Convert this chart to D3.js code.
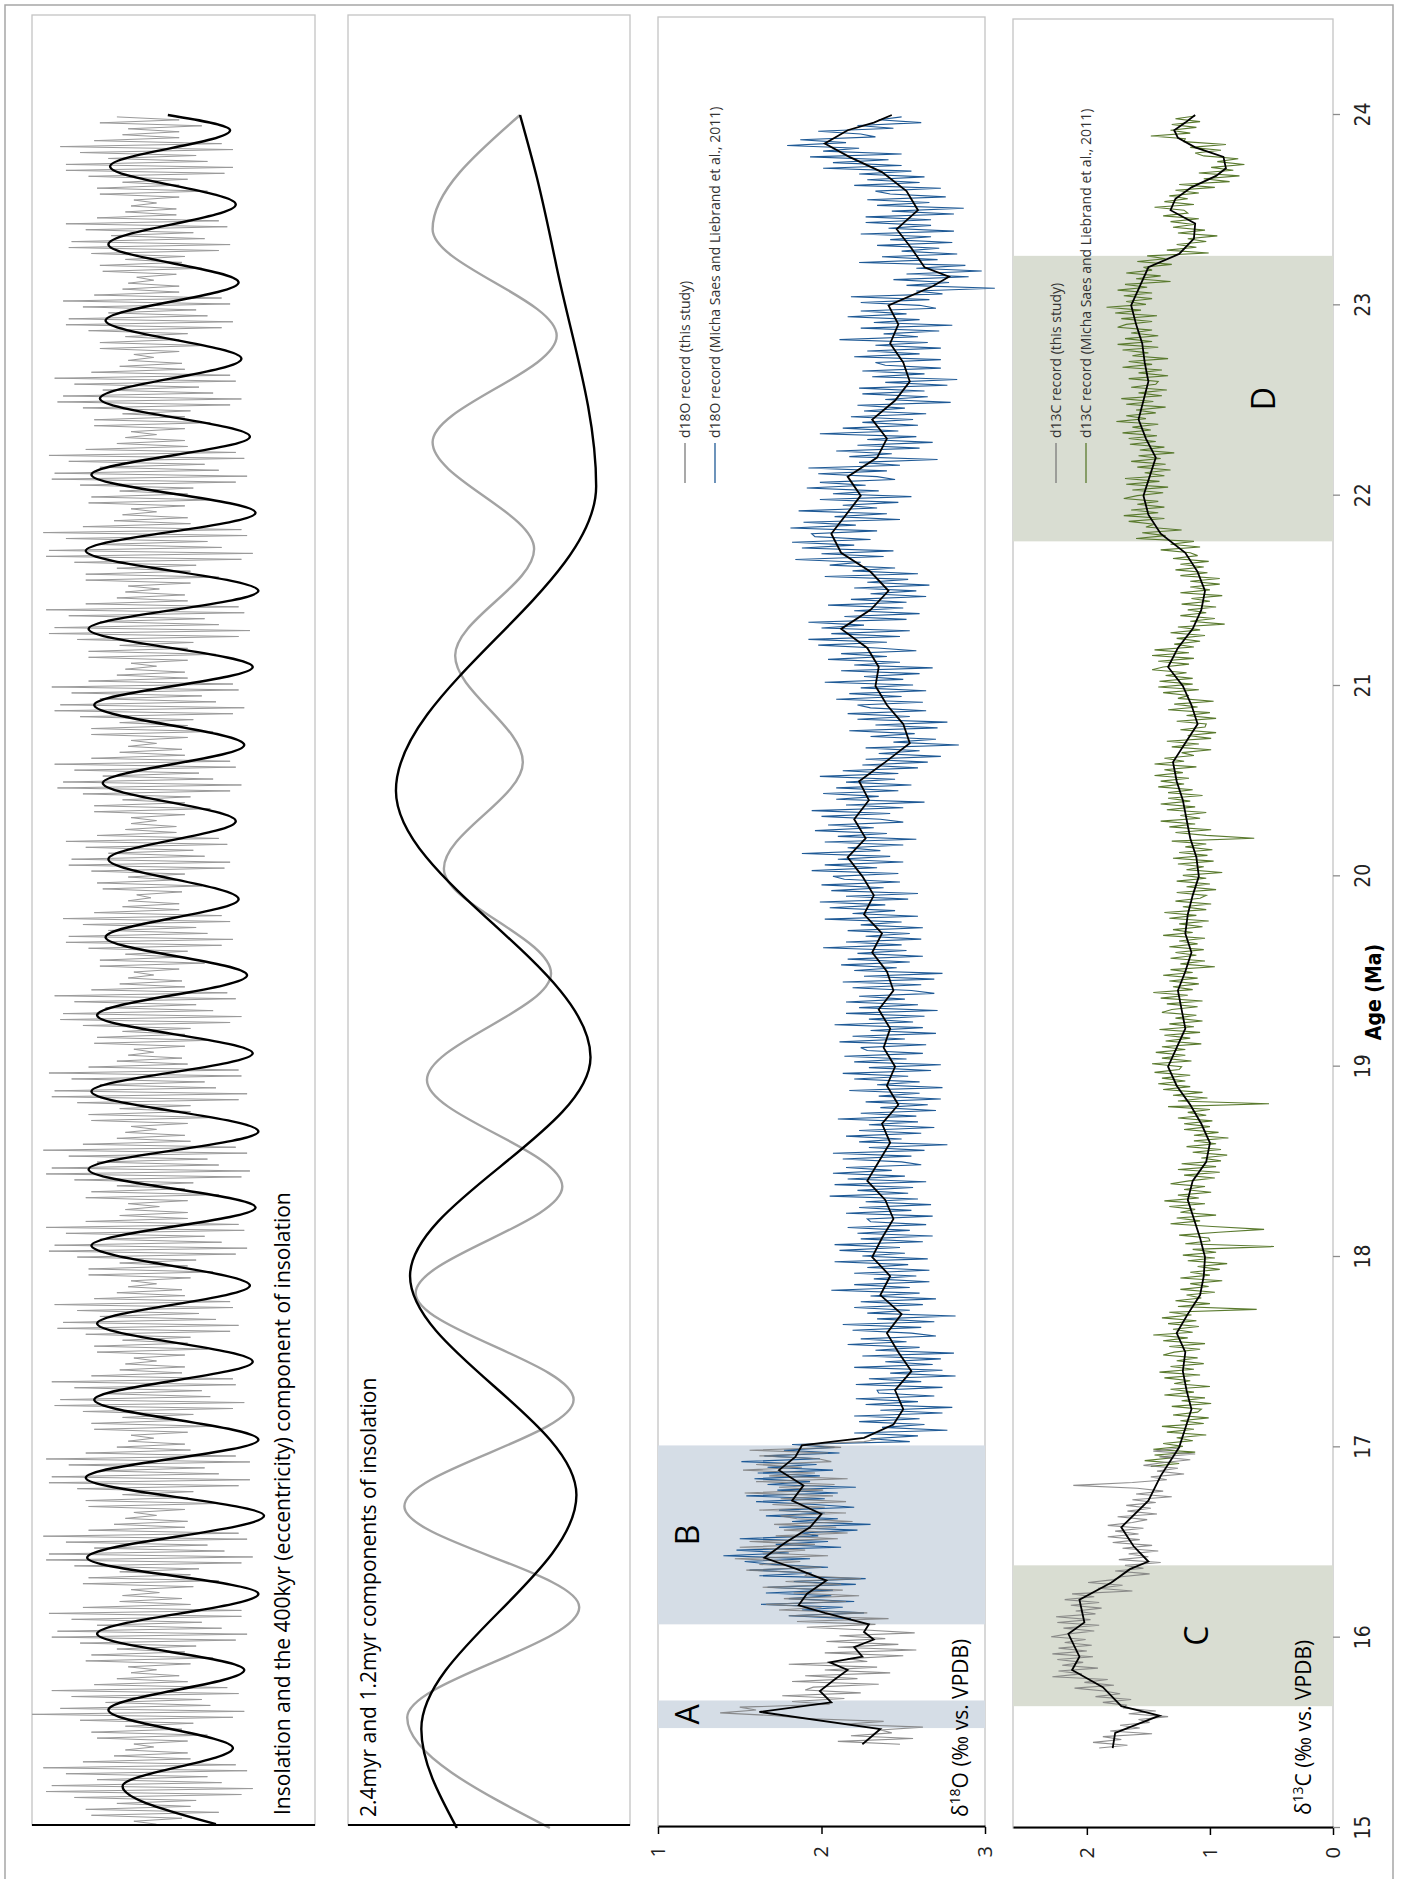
<!DOCTYPE html>
<html>
<head>
<meta charset="utf-8">
<script src="https://cdn.jsdelivr.net/npm/d3@7"></script>
<style>
  body { margin: 0; background: #fff; }
</style>
</head>
<body>
<svg id="chart"></svg>
<script>
const W = 1402, H = 1879;

// Tick values
const ageTicks = [15, 16, 17, 18, 19, 20, 21, 22, 23, 24];
const d18Ticks = [1, 2, 3];
const d13Ticks = [0, 1, 2];

// 400 kyr component, extremes [age Ma, relative 0-100]
const ecc400 = [[15.02,65],[15.22,32],[15.42,71],[15.62,27],[15.83,75],[16.02,23],[16.23,80],[16.42,19.5],[16.64,82],[16.84,19],[17.04,80],[17.25,22],[17.45,78],[17.65,23],[17.85,77],[18.06,21],[18.26,79],[18.46,20],[18.66,80],[18.87,21],[19.07,78],[19.27,23],[19.48,76],[19.68,26],[19.88,73],[20.09,27],[20.29,72],[20.49,25],[20.69,75],[20.90,22],[21.10,78],[21.30,20],[21.50,80],[21.71,19],[21.91,79],[22.11,21],[22.31,77],[22.51,24],[22.72,74],[22.92,26],[23.12,73],[23.32,27],[23.53,72],[23.73,27.6],[23.92,70],[24.0,48]];

// Insolation, successive maxima/minima (relative 0-100)
const insolStart = 15.02, insolStep = 0.0156;
const insolVals = [
44,36,53,21,66,19,56,30,58,15,74,5,78,7,67,23,62,12,76,4,72,18,56,29,55,33,
43,36,55,23,62,21,53,33,57,17,71,0,75,10,63,26,60,14,73,7,69,22,55,30,52,35,
44,34,56,19,64,21,54,30,58,17,72,7,76,9,67,23,60,14,74,6,74,18,56,31,53,32,
45,35,57,18,66,20,56,31,59,15,74,5,78,6,68,22,62,12,76,4,73,20,54,29,55,33,
44,36,54,20,65,19,55,32,57,16,73,6,77,7,66,24,61,13,77,5,72,19,56,30,54,34,
43,35,55,22,64,21,53,32,57,18,71,8,75,10,63,25,60,15,72,7,71,21,53,31,54,33,
44,36,54,23,62,22,55,32,56,19,70,9,73,11,65,24,59,16,71,8,70,22,54,30,53,34,
44,35,56,20,64,20,55,31,58,16,72,6,76,8,67,24,61,12,75,5,73,19,55,31,55,33,
45,34,55,19,66,21,54,30,57,15,74,5,77,7,66,23,62,13,76,4,72,18,56,30,54,33,
44,35,55,21,65,20,56,31,56,16,73,7,76,8,65,24,61,14,74,6,73,20,55,30,53,34,
43,36,54,22,63,23,54,32,56,18,70,10,74,11,64,26,58,15,72,8,69,21,54,31,53,34,
43,36,52,24,61,24,52,33,55,20,67,12,71,13,62,27,58,18,70,11,67,22,52,32,52,34,
42,37,53,25,60,23,51,34,54,21,68,13,70,14,61,27,57,19,69,12,66,23,51,33,51,35,
44,35,54,22,63,22,54,32,56,18,70,9,74,11,64,25,59,15,72,8,70,21,54,31,53,34,
44,35,55,21,64,21,55,31,57,17,71,8,75,10,65,24,60,14,73,7,71,20,55,30,54,33,
44,35,55,20,65,20,55,31,57,16,73,6,77,8,66,24,61,13,75,5,73,19,55,30,54,33,
45,34,56,19,66,19,56,30,58,15,74,5,78,6,67,23,62,12,76,4,74,18,56,29,55,32,
44,35,54,20,64,21,55,31,57,17,72,7,76,8,66,24,61,13,75,6,72,19,55,30,54,33,
44,35,54,22,63,22,54,32,56,18,70,9,74,11,64,25,59,15,72,8,70,21,54,31,53,34,
43,36,52,24,61,24,52,33,55,20,67,12,71,13,62,27,58,18,70,11,67,22,52,32,52,34,
43,37,51,25,60,24,53,33,54,21,66,13,70,14,61,28,57,19,69,12,66,23,51,33,51,35,
44,36,52,24,62,23,52,32,55,20,68,12,71,12,62,27,58,17,71,10,67,22,52,32,52,34,
60,24,52,30];

// 2.4 myr (black) and 1.2 myr (grey) components [age, relative 0-100]
const comp24 = [[15.0,38.6],[15.52,26],[16.75,81],[17.9,22],[19.05,86],[20.45,17],[22.05,88],[23.2,74],[23.67,67],[24.0,61]];
const comp12 = [[15.0,71.6],[15.58,21],[16.16,82],[16.69,20],[17.25,80],[17.81,24],[18.37,76],[18.93,28],[19.49,72],[20.04,34],[20.6,62],[21.16,38],[21.72,66],[22.28,30],[22.84,74],[23.4,30],[24.0,61]];

// d18O smoothed record [age, permil]
const d18Smooth = [[15.44,2.25],[15.52,2.36],[15.61,1.62],[15.66,2.06],[15.72,1.99],[15.78,2.08],[15.83,2.16],[15.87,2.05],[15.90,2.25],[15.95,2.2],[15.99,2.32],[16.03,2.26],[16.07,2.29],[16.13,2.02],[16.17,1.86],[16.23,1.91],[16.30,2.03],[16.36,1.85],[16.42,1.65],[16.50,1.78],[16.58,1.93],[16.65,2.0],[16.72,1.82],[16.80,1.89],[16.88,1.74],[16.95,1.84],[17.01,1.88],[17.05,2.26],[17.12,2.44],[17.2,2.5],[17.3,2.45],[17.4,2.55],[17.5,2.47],[17.6,2.4],[17.7,2.49],[17.8,2.36],[17.9,2.42],[18.0,2.31],[18.1,2.37],[18.2,2.44],[18.3,2.39],[18.4,2.28],[18.5,2.35],[18.6,2.42],[18.7,2.37],[18.8,2.47],[18.9,2.4],[19.0,2.45],[19.1,2.38],[19.2,2.42],[19.3,2.35],[19.4,2.44],[19.5,2.4],[19.6,2.31],[19.7,2.37],[19.8,2.26],[19.9,2.32],[20.0,2.25],[20.1,2.16],[20.2,2.27],[20.3,2.2],[20.4,2.29],[20.5,2.23],[20.6,2.39],[20.7,2.54],[20.8,2.5],[20.9,2.4],[21.0,2.33],[21.1,2.35],[21.2,2.28],[21.3,2.12],[21.4,2.3],[21.5,2.41],[21.6,2.3],[21.7,2.12],[21.8,2.06],[21.9,2.15],[22.0,2.24],[22.1,2.16],[22.2,2.34],[22.3,2.4],[22.4,2.31],[22.5,2.45],[22.6,2.54],[22.7,2.5],[22.8,2.42],[22.9,2.47],[23.0,2.41],[23.1,2.68],[23.15,2.78],[23.2,2.63],[23.3,2.55],[23.4,2.46],[23.5,2.59],[23.6,2.52],[23.7,2.37],[23.78,2.17],[23.85,2.02],[23.92,2.16],[23.96,2.32],[24.0,2.43]];

// d18O raw records, permil x100 at regular age steps
const d18ThisStart = 15.44, d18LiebStart = 16.10, rawStep = 0.015;
const d18This = [
248,210,256,218,243,236,262,214,238,190,172,138,160,150,205,182,214,176,224,190,
195,235,182,222,190,242,202,234,180,228,216,250,202,258,210,247,203,239,211,257,
227,191,233,185,241,180,228,174,200,166,215,177,223,183,213,164,212,178,224,190,
192,154,200,162,187,147,204,164,190,150,196,156,210,172,216,177,209,171,219,185,
175,215,162,202,170,215,175,207,153,201,174,208,160,216,168,196,152,188,160,206,
198,162,204,156,212,188,226,236];
const d18Lieb = [
218,180,226,188,213,163,220,180,206,166,207,167,221,183,227,162,194,156,204,170,
153,193,140,180,148,212,172,204,150,198,188,222,174,230,182,210,166,202,174,220,
196,160,202,154,210,173,221,167,193,159,199,161,207,167,197,151,199,165,211,177,
208,182,254,230,259,220,277,237,263,223,260,220,274,236,280,227,259,221,269,235,
234,274,221,261,229,282,242,274,220,268,239,273,225,281,233,260,216,252,224,270,
255,219,261,213,269,234,282,228,254,220,262,224,270,230,260,206,254,220,266,232,
258,220,266,228,253,208,265,225,251,211,248,208,262,224,268,222,254,216,264,230,
228,268,215,255,223,267,227,259,205,253,222,256,208,264,216,251,207,243,215,261,
249,213,255,207,263,229,277,223,249,215,261,223,269,229,259,210,258,224,270,236,
265,227,273,235,260,217,274,234,260,220,253,213,267,229,273,220,252,214,262,228,
224,264,211,251,219,270,230,262,208,256,229,263,215,271,223,259,215,251,223,269,
255,219,261,213,269,226,274,220,246,212,254,216,262,222,252,201,249,215,261,227,
254,216,262,224,249,202,259,219,245,205,239,199,253,215,259,206,238,200,248,214,
207,247,194,234,202,250,210,242,188,236,216,250,202,258,210,240,196,232,204,250,
236,200,242,194,250,215,263,209,235,201,247,209,255,215,245,199,247,213,259,225,
265,227,273,235,260,227,284,244,270,230,257,217,271,233,277,222,254,216,264,230,
222,262,209,249,217,264,224,256,202,250,226,260,212,268,220,248,204,240,212,258,
234,198,240,192,248,206,254,200,226,192,252,214,260,220,250,204,252,218,264,230,
258,220,266,228,253,202,259,219,245,205,224,184,238,200,244,188,220,182,230,196,
194,234,181,221,189,248,208,240,186,234,213,247,199,255,207,235,191,227,199,245,
234,198,240,192,248,223,271,217,243,209,260,222,268,228,258,199,247,213,259,225,
256,218,264,226,251,222,279,239,265,225,263,223,277,239,283,231,263,225,273,239,
233,273,220,260,228,273,233,265,211,259,238,272,224,280,232,260,216,252,224,270,
260,224,266,218,274,258,306,252,278,244,290,252,298,258,288,223,271,237,283,249,
272,234,280,242,267,224,281,241,267,227,267,227,281,243,287,234,266,228,276,242,
233,273,220,260,228,263,223,255,201,249,207,241,193,249,201,223,179,215,187,233,
224,198,244,222,261,235,249];

// d13C smoothed record [age, permil]
const d13Smooth = [[15.42,1.79],[15.50,1.77],[15.59,1.41],[15.64,1.72],[15.74,1.87],[15.83,2.12],[15.90,2.06],[16.02,2.15],[16.08,2.02],[16.20,2.06],[16.29,1.80],[16.36,1.65],[16.40,1.50],[16.48,1.62],[16.58,1.72],[16.72,1.50],[16.85,1.40],[17.0,1.25],[17.1,1.2],[17.2,1.15],[17.3,1.19],[17.4,1.22],[17.5,1.2],[17.6,1.27],[17.7,1.18],[17.8,1.08],[17.9,1.05],[18.0,1.04],[18.1,1.08],[18.2,1.13],[18.3,1.18],[18.4,1.14],[18.5,1.03],[18.6,1.0],[18.7,1.07],[18.8,1.16],[18.9,1.27],[19.0,1.34],[19.1,1.27],[19.2,1.2],[19.3,1.23],[19.4,1.26],[19.5,1.2],[19.6,1.15],[19.7,1.2],[19.8,1.18],[19.9,1.14],[20.0,1.09],[20.1,1.11],[20.2,1.16],[20.3,1.19],[20.4,1.22],[20.5,1.27],[20.6,1.3],[20.7,1.2],[20.8,1.1],[20.9,1.15],[21.0,1.22],[21.1,1.34],[21.2,1.26],[21.3,1.14],[21.4,1.07],[21.5,1.04],[21.6,1.1],[21.7,1.2],[21.8,1.4],[21.9,1.5],[22.0,1.54],[22.1,1.49],[22.2,1.44],[22.3,1.52],[22.4,1.58],[22.5,1.54],[22.6,1.5],[22.7,1.53],[22.8,1.55],[22.9,1.6],[23.0,1.64],[23.1,1.57],[23.2,1.5],[23.27,1.25],[23.35,1.13],[23.43,1.12],[23.5,1.32],[23.56,1.28],[23.62,1.15],[23.68,0.95],[23.72,0.87],[23.78,0.89],[23.83,1.12],[23.88,1.26],[23.92,1.29],[23.96,1.2],[24.0,1.12]];

// d13C raw records, permil x100
const d13ThisStart = 15.42, d13LiebStart = 16.90;
const d13This = [
190,167,195,172,187,147,181,157,173,149,158,134,166,144,170,168,187,164,193,173,
186,210,178,202,183,228,204,223,191,220,203,224,195,228,200,223,196,218,201,229,
215,194,219,190,224,197,225,193,209,188,213,190,218,194,212,163,191,171,199,178,
172,149,177,154,169,140,174,150,166,142,171,147,179,157,183,158,177,154,183,163,
151,175,143,167,148,168,144,163,131,160,138,159,211,163,135,148,121,143,126,154,
137,116,141,112,146,126];
const d13Lieb = [
148,125,153,130,145,112,146,122,138,114,127,103,135,113,139,105,124,101,130,110,
107,131,99,123,104,137,113,132,100,129,116,137,108,141,113,132,105,127,110,138,
129,108,133,104,138,118,146,114,130,109,134,111,139,115,133,62,126,100,128,107,
119,96,124,101,116,90,124,100,116,92,110,86,118,96,122,95,114,48,120,100,
101,125,93,56,98,132,108,127,95,124,112,133,104,137,109,126,99,121,104,132,
117,96,121,92,126,95,123,91,107,86,114,91,119,95,113,85,113,93,121,100,
121,98,126,103,118,100,134,52,126,102,130,106,138,116,142,120,139,116,145,125,
123,147,115,139,120,144,120,139,107,136,116,137,108,141,113,133,106,128,111,139,
131,110,135,106,140,118,146,114,130,109,133,110,138,114,132,96,124,104,132,111,
128,105,133,110,125,104,138,114,130,106,125,101,133,111,137,103,122,99,128,108,
103,127,95,119,100,127,103,122,90,119,105,126,97,130,102,125,98,120,103,131,
64,103,128,99,133,112,140,108,124,103,135,112,140,116,134,106,134,114,142,121,
140,117,145,122,137,111,145,121,137,113,123,99,131,109,135,99,118,95,124,104,
103,127,95,119,100,134,110,129,97,126,117,138,109,142,114,141,114,136,119,147,
138,117,142,113,147,117,145,113,129,108,127,104,132,108,126,88,116,96,124,103,
118,95,123,100,115,90,124,100,116,92,116,92,124,102,128,105,124,101,130,110,
116,140,108,132,113,160,136,155,123,152,145,166,137,170,142,164,137,159,142,170,
159,138,163,134,168,141,169,137,153,132,159,136,164,140,158,129,157,137,165,144,
166,143,171,148,163,142,176,152,168,144,160,136,168,146,172,139,158,135,164,144,
142,166,134,158,139,171,147,166,134,163,150,171,142,175,147,169,142,164,147,175,
168,147,172,143,177,156,184,152,168,147,170,147,175,151,169,132,160,140,168,147,
154,131,159,136,151,101,135,111,127,103,118,94,126,104,130,113,132,109,138,118,
121,145,113,137,118,133,109,128,96,125,84,105,76,109,81,99,72,94,77,105,
112,91,116,87,121,120,148,116,132,111,131,108,128,112];

// Shaded intervals [name, from Ma, to Ma]
const bandsO = [["A", 15.525, 15.67], ["B", 16.07, 17.01]];
const bandsC = [["C", 15.64, 16.38], ["D", 21.76, 23.26]];

// ---- layout (screen pixels) ----
const pIns = {x0: 32, x1: 315, top: 15, bot: 1825};
const pComp = {x0: 348, x1: 630, top: 15, bot: 1825};
const pO = {x0: 658, x1: 985, top: 17, bot: 1827};
const pC = {x0: 1013, x1: 1333, top: 19, bot: 1828};

const textFont = "'Open Sans', 'DejaVu Sans', sans-serif";
const narrowFont = "'Liberation Sans Narrow', 'DejaVu Sans Condensed', 'Arial Narrow', sans-serif";

const svg = d3.select("#chart").attr("width", W).attr("height", H);

// outer frame
svg.append("rect")
  .attr("x", 5).attr("y", 5).attr("width", 1388).attr("height", H + 20)
  .attr("fill", "none").attr("stroke", "#a6a6a6").attr("stroke-width", 1.5);

// panel frames
[pIns, pComp, pO, pC].forEach(p => {
  svg.append("rect")
    .attr("x", p.x0).attr("y", p.top)
    .attr("width", p.x1 - p.x0).attr("height", p.bot - p.top)
    .attr("fill", "none").attr("stroke", "#c4c4c4").attr("stroke-width", 1.3);
});

// Everything else is drawn in the unrotated chart frame, turned by -90 degrees.
// u (horizontal in the frame) = H - screen y, v = screen x
const g = svg.append("g").attr("transform", `translate(0,${H}) rotate(-90)`);

const age = d3.scaleLinear().domain([15, 24]).range([H - 1828, H - 115]);
const xIns = d3.scaleLinear().domain([0, 100]).range([pIns.x0, pIns.x1]);
const xComp = d3.scaleLinear().domain([0, 100]).range([pComp.x0, pComp.x1]);
const xO = d3.scaleLinear().domain([1, 3]).range([pO.x0, pO.x1]);
const xC = d3.scaleLinear().domain([0, 2.6]).range([pC.x1, pC.x0]);

const regular = (start, step, vals, scale) => vals.map((v, i) => [start + i * step, scale(v)]);
const lineOf = (vs, curve) => d3.line()
  .x(d => age(d[0])).y(d => vs(d[1]))
  .curve(curve || d3.curveLinear);

// shaded bands
function drawBands(bands, vs, fill) {
  const [a, b] = vs.range();
  g.selectAll(null).data(bands).enter().append("rect")
    .attr("x", d => age(d[1])).attr("width", d => age(d[2]) - age(d[1]))
    .attr("y", Math.min(a, b)).attr("height", Math.abs(b - a))
    .attr("fill", fill);
}
drawBands(bandsO, xO, "#d5dde6");
drawBands(bandsC, xC, "#d9ddd2");

// panel 1: insolation + 400 kyr
g.append("path")
  .attr("d", lineOf(xIns)(regular(insolStart, insolStep, insolVals, v => v)))
  .attr("fill", "none").attr("stroke", "#9a9a9a").attr("stroke-width", 1);
g.append("path")
  .attr("d", lineOf(xIns, d3.curveMonotoneX)(ecc400))
  .attr("fill", "none").attr("stroke", "#000").attr("stroke-width", 2.4);

// panel 2: 2.4 myr and 1.2 myr components
g.append("path")
  .attr("d", lineOf(xComp, d3.curveMonotoneX)(comp12))
  .attr("fill", "none").attr("stroke", "#a3a3a3").attr("stroke-width", 2.4);
g.append("path")
  .attr("d", lineOf(xComp, d3.curveMonotoneX)(comp24))
  .attr("fill", "none").attr("stroke", "#000").attr("stroke-width", 2.4);

// panel 3: d18O
const pct = v => v / 100;
g.append("path")
  .attr("d", lineOf(xO)(regular(d18LiebStart, rawStep, d18Lieb, pct)))
  .attr("fill", "none").attr("stroke", "#1f5a96").attr("stroke-width", 1.1);
g.append("path")
  .attr("d", lineOf(xO)(regular(d18ThisStart, rawStep, d18This, pct)))
  .attr("fill", "none").attr("stroke", "#7b7b7b").attr("stroke-width", 1.1).attr("opacity", 0.85);
g.append("path")
  .attr("d", lineOf(xO)(d18Smooth))
  .attr("fill", "none").attr("stroke", "#000").attr("stroke-width", 1.8);

// panel 4: d13C
g.append("path")
  .attr("d", lineOf(xC)(regular(d13LiebStart, rawStep, d13Lieb, pct)))
  .attr("fill", "none").attr("stroke", "#5a7a2e").attr("stroke-width", 1.1);
g.append("path")
  .attr("d", lineOf(xC)(regular(d13ThisStart, rawStep, d13This, pct)))
  .attr("fill", "none").attr("stroke", "#7b7b7b").attr("stroke-width", 1.1).attr("opacity", 0.85);
g.append("path")
  .attr("d", lineOf(xC)(d13Smooth))
  .attr("fill", "none").attr("stroke", "#000").attr("stroke-width", 1.8);

// band letters
function drawBandLabels(bands, vs) {
  g.selectAll(null).data(bands).enter().append("text")
    .attr("x", d => age((d[1] + d[2]) / 2)).attr("y", (d, i) => vs[i])
    .attr("text-anchor", "middle")
    .attr("font-family", textFont).attr("font-size", 32)
    .text(d => d[0]);
}
drawBandLabels(bandsO, [699, 699]);
drawBandLabels(bandsC, [1208, 1275]);

// panel titles
g.append("text").attr("x", H - 1815).attr("y", 290)
  .attr("font-family", textFont).attr("font-size", 21)
  .text("Insolation and the 400kyr (eccentricity) component of insolation");
g.append("text").attr("x", H - 1817).attr("y", 376)
  .attr("font-family", textFont).attr("font-size", 21)
  .text("2.4myr and 1.2myr components of insolation");

// y axis titles with superscripts
function isoLabel(x, y, mass, el) {
  const t = g.append("text").attr("x", x).attr("y", y)
    .attr("font-family", textFont).attr("font-size", 21);
  t.append("tspan").text("δ");
  t.append("tspan").attr("dy", -8).attr("font-size", 14).text(mass);
  t.append("tspan").attr("dy", 8).text(el + " (‰  vs. VPDB)");
}
isoLabel(H - 1817, 968, "18", "O");
isoLabel(H - 1815, 1311, "13", "C");

// legends
function legend(entries, v0) {
  entries.forEach((e, i) => {
    const v = v0 + i * 30;
    g.append("line")
      .attr("x1", H - 483).attr("x2", H - 443).attr("y1", v).attr("y2", v)
      .attr("stroke", e[1]).attr("stroke-width", 1.3);
    g.append("text").attr("x", H - 438).attr("y", v + 5)
      .attr("font-family", textFont).attr("font-size", 14).attr("fill", "#333")
      .text(e[0]);
  });
}
legend([["d18O record (this study)", "#7b7b7b"],
        ["d18O record (Micha Saes and Liebrand et al., 2011)", "#1f5a96"]], 685);
legend([["d13C record (this study)", "#7b7b7b"],
        ["d13C record (Micha Saes and Liebrand et al., 2011)", "#5a7a2e"]], 1056);

// left edges of panels 1 and 2 (black axis lines, no ticks)
[pIns, pComp].forEach(p => {
  g.append("line")
    .attr("x1", H - p.bot).attr("x2", H - p.bot)
    .attr("y1", p.x0).attr("y2", p.x1)
    .attr("stroke", "#000").attr("stroke-width", 2);
});

// value axes
function valueAxis(scale, ticks, pos) {
  const ax = g.append("g").attr("transform", `translate(${pos},0)`)
    .call(d3.axisLeft(scale).tickValues(ticks).tickSize(7).tickSizeOuter(0).tickPadding(12).tickFormat(d3.format("d")));
  ax.select(".domain").attr("stroke", "#000").attr("stroke-width", 2);
  ax.selectAll(".tick line").attr("stroke", "#000").attr("stroke-width", 1.5);
  ax.selectAll("text").attr("font-family", textFont).attr("font-size", 20).attr("fill", "#222");
}
valueAxis(xO, d18Ticks, H - pO.bot);
valueAxis(xC, d13Ticks, H - pC.bot);

// age axis
const ageAx = g.append("g").attr("transform", `translate(0,${pC.x1})`)
  .call(d3.axisBottom(age).tickValues(ageTicks).tickSize(7).tickSizeOuter(0).tickPadding(15));
ageAx.select(".domain").remove();
ageAx.selectAll(".tick line").attr("stroke", "#8c8c8c").attr("stroke-width", 1.3);
ageAx.selectAll("text").attr("font-family", narrowFont).attr("font-size", 21).attr("fill", "#222");

g.append("text")
  .attr("x", H - 992).attr("y", 1381)
  .attr("text-anchor", "middle")
  .attr("font-family", narrowFont).attr("font-size", 21).attr("font-weight", "bold")
  .text("Age (Ma)");
</script>
</body>
</html>
